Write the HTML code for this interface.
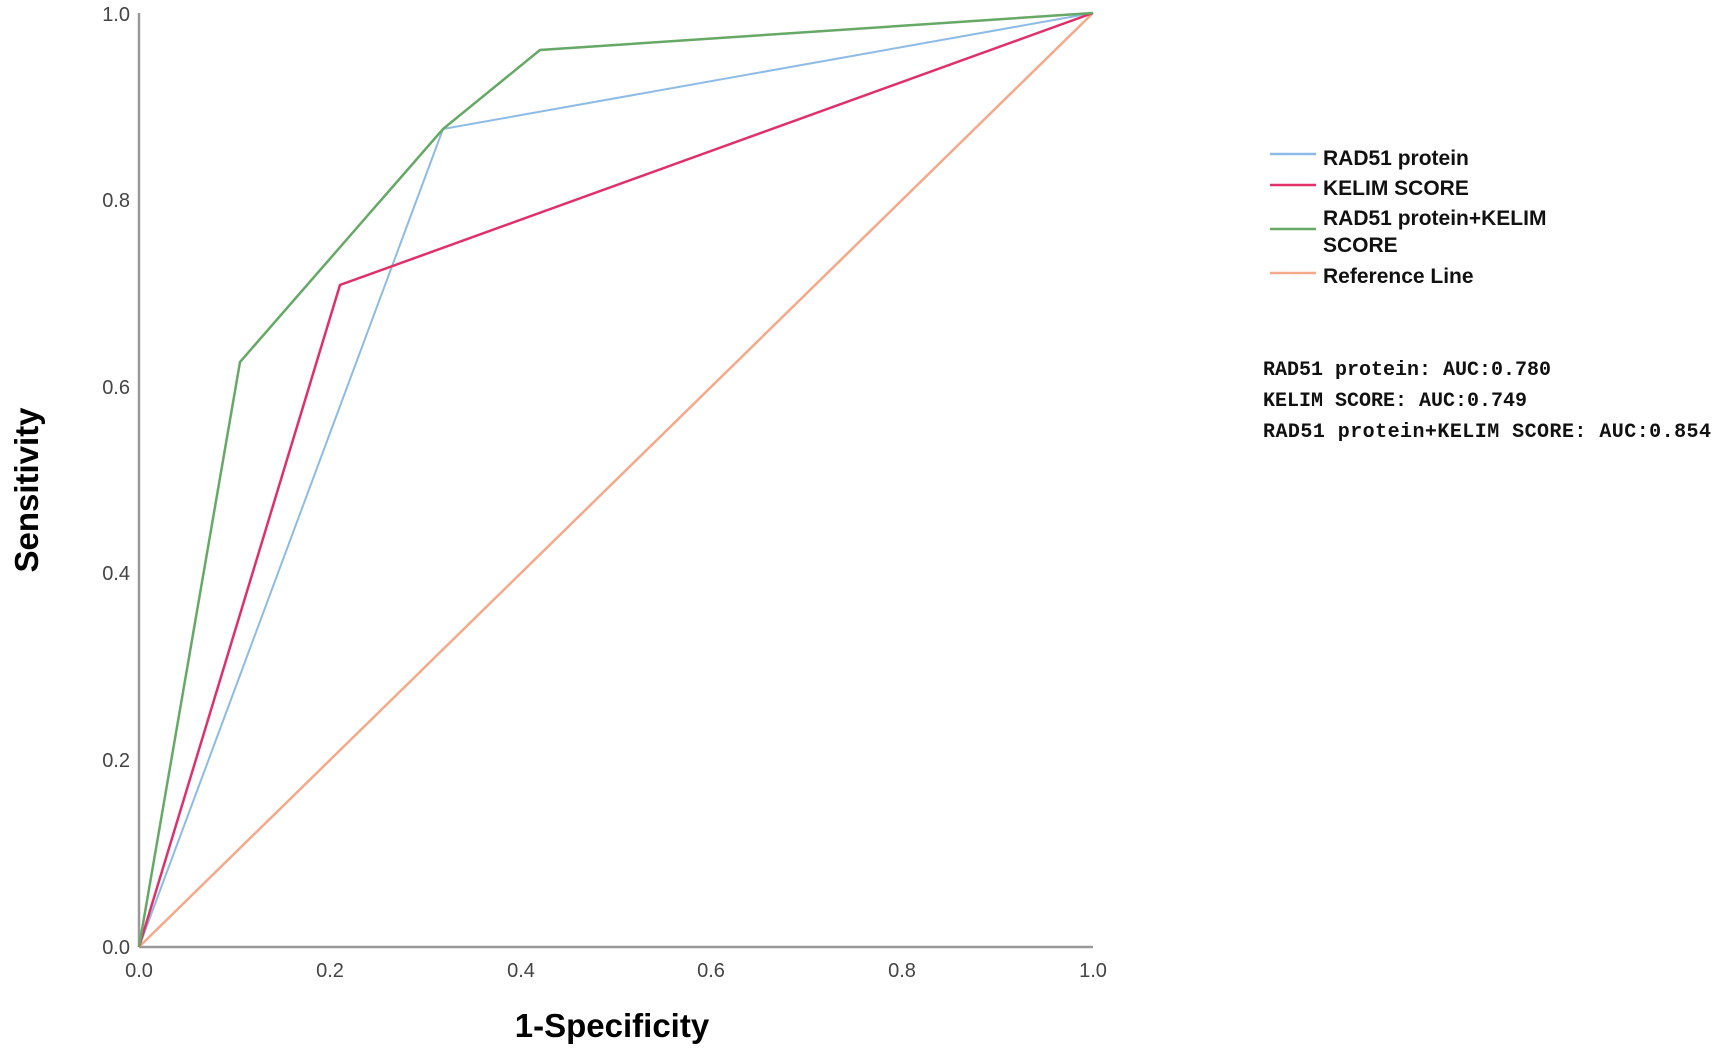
<!DOCTYPE html>
<html><head><style>body{margin:0;background:#fff}</style></head><body>
<svg width="1727" height="1051" xmlns="http://www.w3.org/2000/svg" font-family="Liberation Sans, sans-serif">
<rect width="1727" height="1051" fill="#fff"/>
<line x1="139" y1="13" x2="139" y2="947" stroke="#999" stroke-width="2.5"/>
<line x1="139" y1="947" x2="1093" y2="947" stroke="#999" stroke-width="2.5"/>
<g font-size="20" fill="#444" text-anchor="end">
<text x="130" y="954">0.0</text><text x="130" y="767">0.2</text><text x="130" y="580">0.4</text><text x="130" y="394">0.6</text><text x="130" y="207">0.8</text><text x="130" y="21">1.0</text>
</g>
<g font-size="20" fill="#444" text-anchor="middle">
<text x="139" y="977">0.0</text><text x="330" y="977">0.2</text><text x="521" y="977">0.4</text><text x="711" y="977">0.6</text><text x="902" y="977">0.8</text><text x="1093" y="977">1.0</text>
</g>
<text x="612" y="1037" font-size="33" font-weight="bold" text-anchor="middle">1-Specificity</text>
<text transform="translate(38,490) rotate(-90)" font-size="33" font-weight="bold" text-anchor="middle">Sensitivity</text>
<line x1="139" y1="947" x2="1093" y2="13" stroke="#f4a98a" stroke-width="2.5"/>
<polyline points="139,947 443,129 1093,13" fill="none" stroke="#8dbbe6" stroke-width="2"/>
<polyline points="139,947 340,285 1093,13" fill="none" stroke="#e0306a" stroke-width="2.5"/>
<polyline points="139,947 240,362 443,129 540,50 1093,13" fill="none" stroke="#66a866" stroke-width="2.5"/>
<g stroke-width="2.5">
<line x1="1270" y1="154" x2="1316" y2="154" stroke="#8dbbe6"/>
<line x1="1270" y1="185" x2="1316" y2="185" stroke="#e0306a"/>
<line x1="1270" y1="229" x2="1316" y2="229" stroke="#66a866"/>
<line x1="1270" y1="273" x2="1316" y2="273" stroke="#f4a98a"/>
</g>
<g font-size="21" font-weight="bold" fill="#111">
<text x="1323" y="165">RAD51 protein</text>
<text x="1323" y="195">KELIM SCORE</text>
<text x="1323" y="225">RAD51 protein+KELIM</text>
<text x="1323" y="252">SCORE</text>
<text x="1323" y="283">Reference Line</text>
</g>
<g font-size="20" font-weight="bold" fill="#111" font-family="Liberation Mono, monospace">
<text x="1263" y="375">RAD51 protein: AUC:0.780</text>
<text x="1263" y="406">KELIM SCORE: AUC:0.749</text>
<text x="1263" y="437" textLength="448">RAD51 protein+KELIM SCORE: AUC:0.854</text>
</g>
</svg>
</body></html>
